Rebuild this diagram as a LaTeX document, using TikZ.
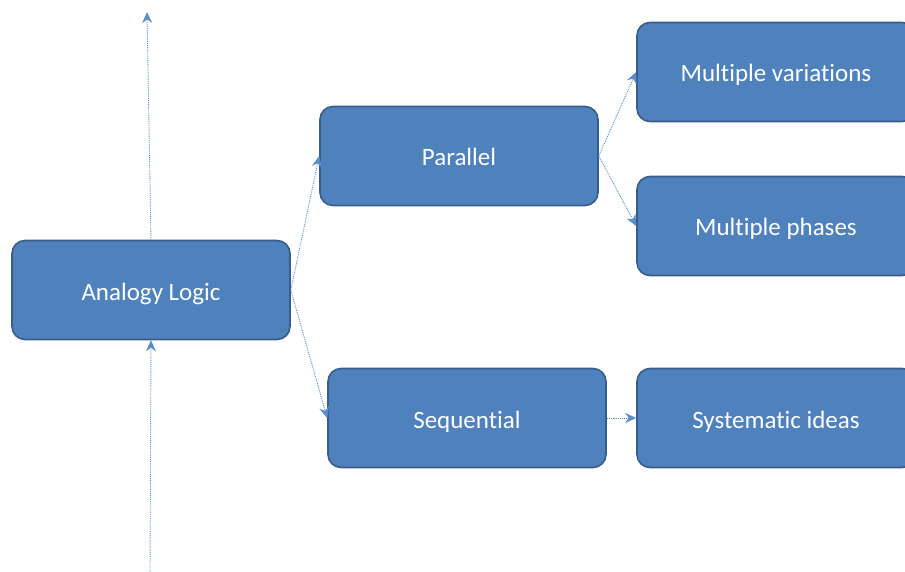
\documentclass[tikz,border=0pt]{standalone}
\usepackage{fontspec}
\setmainfont{Carlito}[Ligatures=NoCommon]
\usepackage{xcolor}
\usetikzlibrary{arrows.meta}
\definecolor{boxblue}{RGB}{79,129,189}
\definecolor{boxedge}{RGB}{56,93,138}
\definecolor{linkblue}{RGB}{90,140,200}
\tikzset{
  blk/.style ={draw=boxedge, line width=1.6pt, fill=boxblue, rounded corners=13pt,
               text=white, font=\fontsize{25}{30}\selectfont,
               text height=20pt, text depth=0pt,
               minimum width=278pt, minimum height=99pt, inner sep=0pt},
  ar/.style  ={-{Stealth[length=11pt,width=10pt]}, draw=linkblue, densely dotted, line width=0.9pt},
}
\begin{document}
\begin{tikzpicture}[x=1pt,y=-1pt]
\useasboundingbox (0,0) rectangle (905,572);
% boxes
\node[blk] (logic) at (151,290) {Analogy Logic};
\node[blk] (par)   at (459,156) {Parallel};
\node[blk] (seq)   at (467,418) {Sequential};
\node[blk] (vari)  at (776,72)  {Multiple variations};
\node[blk] (phase) at (776,226) {Multiple phases};
\node[blk] (syst)  at (776,418) {Systematic ideas};
% vertical line
\coordinate (base) at (150,572);
\coordinate (apex) at (147,12);
\draw[ar] (base) -- (logic.south);
\draw[ar] (logic.north) -- (apex);
% links
\draw[ar] (logic.east) -- (par.west);
\draw[ar] (logic.east) -- (seq.west);
\draw[ar] (par.east) -- (vari.west);
\draw[ar] (par.east) -- (phase.west);
\draw[ar] (seq.east) -- (syst.west);
\end{tikzpicture}
\end{document}
